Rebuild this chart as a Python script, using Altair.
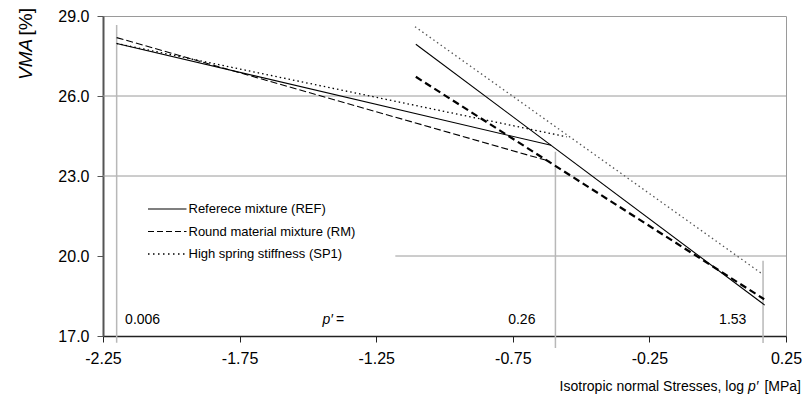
import altair as alt
import pandas as pd

# ---------------- data ----------------
series_names = ["REF", "RM", "SP1"]
legend_labels = ["Referece mixture (REF)", "Round material mixture (RM)", "High spring stiffness (SP1)"]

# two branches per mixture (x = log p' [MPa], y = VMA [%])
ref_b1_x = [-2.20, -0.61]
ref_b1_y = [27.97, 24.15]
ref_b2_x = [-1.105, 0.172]
ref_b2_y = [27.94, 18.16]

rm_b1_x = [-2.20, -0.614]
rm_b1_y = [28.19, 23.55]
rm_b2_x = [-1.105, 0.17]
rm_b2_y = [26.72, 18.38]

sp_b1_x = [-2.20, -0.553]
sp_b1_y = [27.97, 24.47]
sp_b2_x = [-1.108, 0.16]
sp_b2_y = [28.60, 19.35]

# reference stress levels (vertical markers)
v_x = [-2.20, -0.594, 0.166]
v_top = [28.66, 23.91, 19.82]
v_bot = [16.75, 16.55, 16.74]

# stress annotations
ann_text = ["0.006", "0.26", "1.53"]
ann_x = [-2.105, -0.717, 0.055]

# horizontal grid
grid_y = [26.0, 23.0, 20.0]
grid_x0 = [-2.25, -2.25, -1.18]
grid_x1 = [0.25, 0.25, 0.25]

x_ticks = [-2.25, -1.75, -1.25, -0.75, -0.25, 0.25]
y_ticks = [17.0, 20.0, 23.0, 26.0, 29.0]

x_title_parts = ["Isotropic normal Stresses, log", "p\u2032", "[MPa]"]
y_title_parts = ["VMA", "[%]"]

# ---------------- tables ----------------
rows = []
for s, b, xs, ys in [("REF", 1, ref_b1_x, ref_b1_y), ("REF", 2, ref_b2_x, ref_b2_y),
                     ("RM", 1, rm_b1_x, rm_b1_y), ("RM", 2, rm_b2_x, rm_b2_y),
                     ("SP1", 1, sp_b1_x, sp_b1_y), ("SP1", 2, sp_b2_x, sp_b2_y)]:
    for i, (xv, yv) in enumerate(zip(xs, ys)):
        rows.append({"seg": f"{s}-{b}", "x": xv, "y": yv, "o": i})
lines_df = pd.DataFrame(rows)
vdf = pd.DataFrame({"x": v_x, "y": v_top, "y2": v_bot})
gdf = pd.DataFrame({"x": grid_x0, "x2": grid_x1, "y": grid_y})
adf = pd.DataFrame({"x": ann_x, "t": ann_text})
leg_df = pd.DataFrame({"series": series_names, "label": legend_labels})

SANS = "Liberation Sans"

X = alt.X("x:Q", scale=alt.Scale(domain=[-2.25, 0.25], nice=False, zero=False),
          axis=alt.Axis(values=x_ticks, title=None, grid=False,
                        labelExpr="replace(format(datum.value, '.2f'), '\u2212', '-')",
                        labelFont=SANS, labelFontSize=16, labelColor="#000",
                        tickColor="#222", tickSize=6, domainColor="#222", domainWidth=1.5,
                        labelPadding=8, labelFlush=False))
Y = alt.Y("y:Q", scale=alt.Scale(domain=[17, 29], nice=False, zero=False),
          axis=alt.Axis(values=y_ticks, format=".1f", title=None, grid=False,
                        labelFont=SANS, labelFontSize=16, labelColor="#000",
                        tickColor="#555", tickSize=6, domainColor="#555", domainWidth=2,
                        labelPadding=8))

layers = []

# grid lines
layers.append(alt.Chart(gdf).mark_rule(color="#9a9a9a", strokeWidth=1).encode(
    x=X, x2="x2:Q", y=Y))

# vertical stress markers
layers.append(alt.Chart(vdf).mark_rule(color="#b8b8b8", strokeWidth=1.5).encode(
    x=X, y=Y, y2="y2:Q"))

styles = {
    "REF-1": dict(color="#000", strokeWidth=1.1),
    "REF-2": dict(color="#000", strokeWidth=1.1),
    "RM-1": dict(color="#000", strokeWidth=1.1, strokeDash=[7, 3]),
    "RM-2": dict(color="#000", strokeWidth=2.2, strokeDash=[7, 4]),
    "SP1-1": dict(color="#000", strokeWidth=1.3, strokeDash=[1.5, 3]),
    "SP1-2": dict(color="#555", strokeWidth=1.3, strokeDash=[1.5, 3]),
}
for seg, st in styles.items():
    layers.append(alt.Chart(lines_df).transform_filter(alt.datum.seg == seg)
                  .mark_line(**st).encode(x=X, y=Y, order="o:Q"))

# annotations
layers.append(alt.Chart(adf).mark_text(font=SANS, fontSize=14, color="#000", baseline="middle").encode(
    x=X, y=alt.value(304), text="t:N"))
pdf = pd.DataFrame({"t": ["p\u2032", "="]})
layers.append(alt.Chart(pdf).transform_filter(alt.datum.t == "p\u2032").mark_text(
    font=SANS, fontSize=14, fontStyle="italic", align="right", baseline="middle").encode(
    x=alt.value(230), y=alt.value(304), text="t:N"))
layers.append(alt.Chart(pdf).transform_filter(alt.datum.t == "=").mark_text(
    font=SANS, fontSize=14, align="left", baseline="middle").encode(
    x=alt.value(233), y=alt.value(304), text="t:N"))

# legend (manual)
leg_dash = {"REF": dict(strokeWidth=1.1), "RM": dict(strokeWidth=1.1, strokeDash=[6, 3]),
            "SP1": dict(strokeWidth=1.3, strokeDash=[1.5, 3.5])}
leg_y = [193, 215.5, 238]
for s, yy in zip(series_names, leg_y):
    layers.append(alt.Chart(leg_df).transform_filter(alt.datum.series == s)
                  .mark_rule(color="#000", **leg_dash[s])
                  .encode(x=alt.value(45), x2=alt.value(83.5), y=alt.value(yy)))
    layers.append(alt.Chart(leg_df).transform_filter(alt.datum.series == s)
                  .mark_text(font=SANS, fontSize=13, align="left", baseline="middle", color="#000")
                  .encode(x=alt.value(85.5), y=alt.value(yy), text="label:N"))

# x title (mixed italic)
xt = pd.DataFrame({"t": x_title_parts})
layers.append(alt.Chart(xt).transform_filter(alt.datum.t == x_title_parts[0]).mark_text(
    font=SANS, fontSize=14, align="right", baseline="alphabetic").encode(
    x=alt.value(641), y=alt.value(375), text="t:N"))
layers.append(alt.Chart(xt).transform_filter(alt.datum.t == x_title_parts[1]).mark_text(
    font=SANS, fontSize=14, fontStyle="italic", align="left", baseline="alphabetic").encode(
    x=alt.value(645), y=alt.value(375), text="t:N"))
layers.append(alt.Chart(xt).transform_filter(alt.datum.t == x_title_parts[2]).mark_text(
    font=SANS, fontSize=14, align="right", baseline="alphabetic").encode(
    x=alt.value(698), y=alt.value(375), text="t:N"))

# y title (rotated, mixed italic)
yt = pd.DataFrame({"t": y_title_parts})
layers.append(alt.Chart(yt).transform_filter(alt.datum.t == "VMA").mark_text(
    font=SANS, fontSize=19, fontStyle="italic", angle=270, align="left", baseline="alphabetic").encode(
    x=alt.value(-71), y=alt.value(64), text="t:N"))
layers.append(alt.Chart(yt).transform_filter(alt.datum.t == "[%]").mark_text(
    font=SANS, fontSize=19, angle=270, align="right", baseline="alphabetic").encode(
    x=alt.value(-71), y=alt.value(-8), text="t:N"))

chart = alt.layer(*layers).properties(
    width=683, height=320,
    autosize=alt.AutoSizeParams(type="none"),
    padding={"left": 103, "top": 16, "right": 19, "bottom": 64},
    background="white",
).configure_view(stroke="#9a9a9a", strokeWidth=1)

chart.save("out.html", embed_options={"renderer": "svg", "actions": False})
